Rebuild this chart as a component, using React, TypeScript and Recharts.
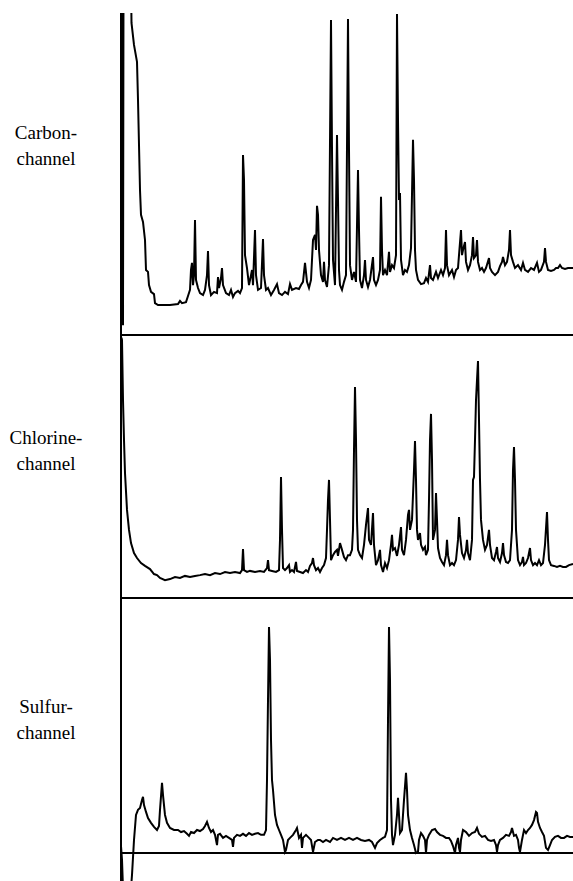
import { LineChart, Line, XAxis, YAxis, ReferenceLine } from "recharts";

// retention time (min) vs detector response (% of full scale)
const carbonTrace: [number, number][] = [
  [0, 0], [0.05, 110], [0.15, 110], [0.2, 3], [0.25, 110], [1.0, 110], [1.05, 96.9], [1.3, 90.1], [1.6, 84.8], [1.7, 73.0], [1.9, 45.0],
  [2.0, 37.3], [2.2, 35.1], [2.4, 29.5], [2.5, 20.2], [2.7, 19.6], [2.8, 15.5], [3.0, 13.4], [3.3, 12.7],
  [3.4, 9.9], [3.7, 9.3], [4.9, 9.3], [5.7, 9.6], [5.9, 10.6], [6.1, 9.9], [6.5, 10.2], [6.7, 12.1],
  [6.9, 14.0], [7.0, 20.2], [7.1, 22.4], [7.2, 15.5], [7.3, 18.6], [7.4, 35.7], [7.5, 17.1], [7.7, 14.6],
  [7.9, 13.0], [8.2, 12.4], [8.4, 14.0], [8.6, 18.6], [8.7, 26.1], [8.8, 15.5], [9.0, 12.4], [9.3, 13.4],
  [9.6, 13.0], [9.7, 18.0], [9.8, 14.6], [10.0, 17.7], [10.1, 20.8], [10.2, 15.5], [10.5, 13.0], [10.8, 12.4],
  [11.0, 14.0], [11.2, 11.8], [11.4, 13.0], [11.7, 13.7], [11.9, 13.0], [12.1, 14.6], [12.2, 55.9], [12.3, 48.1],
  [12.4, 24.8], [12.6, 20.8], [12.8, 15.5], [13.0, 18.6], [13.1, 20.2], [13.2, 15.5], [13.4, 32.6], [13.5, 18.6],
  [13.7, 14.0], [14.0, 14.6], [14.2, 29.8], [14.3, 18.6], [14.5, 14.0], [14.7, 14.6], [15.0, 12.4], [15.3, 14.0],
  [15.6, 15.8], [15.8, 13.0], [16.1, 12.4], [16.4, 13.4], [16.7, 12.7], [16.9, 15.8], [17.1, 14.0], [17.5, 14.6],
  [17.8, 14.3], [18.0, 15.5], [18.2, 16.5], [18.4, 22.4], [18.6, 16.5], [18.8, 14.6], [19.0, 17.1], [19.2, 29.5],
  [19.4, 31.1], [19.5, 26.4], [19.6, 40.1], [19.7, 37.3], [19.8, 26.4], [20.0, 18.6], [20.2, 16.5], [20.3, 22.7],
  [20.4, 17.1], [20.6, 14.9], [20.8, 21.7], [21.0, 97.8], [21.1, 57.5], [21.2, 23.3], [21.4, 15.5], [21.6, 62.1],
  [21.7, 41.9], [21.8, 20.2], [21.9, 15.5], [22.1, 14.0], [22.3, 16.5], [22.5, 18.6], [22.7, 98.1], [22.8, 57.5],
  [22.9, 21.7], [23.1, 17.1], [23.3, 19.6], [23.5, 16.5], [23.7, 51.2], [23.8, 32.6], [23.9, 17.1], [24.1, 14.6],
  [24.3, 18.6], [24.4, 23.3], [24.5, 17.1], [24.7, 14.9], [24.9, 17.1], [25.2, 24.2], [25.3, 17.1], [25.5, 15.5],
  [25.7, 17.1], [25.9, 20.2], [26.0, 42.9], [26.1, 26.4], [26.2, 18.6], [26.4, 20.2], [26.6, 18.6], [26.8, 25.8],
  [26.9, 19.6], [27.1, 21.7], [27.3, 20.8], [27.5, 24.8], [27.6, 99.7], [27.7, 66.8], [27.8, 41.9], [27.9, 44.1],
  [28.0, 23.3], [28.2, 18.6], [28.4, 20.2], [28.6, 19.6], [28.8, 21.7], [29.0, 27.0], [29.2, 60.6], [29.3, 48.1],
  [29.4, 26.4], [29.5, 20.2], [29.7, 17.1], [30.0, 15.8], [30.3, 16.1], [30.5, 17.7], [30.7, 16.5], [30.9, 21.7],
  [31.0, 17.7], [31.2, 17.1], [31.5, 19.6], [31.7, 17.7], [32.0, 20.2], [32.2, 18.6], [32.4, 20.8], [32.5, 32.6],
  [32.6, 21.7], [32.8, 18.6], [33.1, 20.2], [33.3, 18.0], [33.5, 20.2], [33.7, 20.8], [33.8, 24.8], [34.0, 32.6],
  [34.1, 24.8], [34.2, 26.4], [34.4, 28.9], [34.5, 22.7], [34.7, 20.2], [34.9, 21.7], [35.1, 24.8], [35.2, 30.4],
  [35.3, 23.9], [35.5, 24.8], [35.6, 29.5], [35.7, 22.7], [35.9, 20.2], [36.1, 20.8], [36.3, 19.6], [36.5, 20.8],
  [36.8, 23.9], [36.9, 20.8], [37.1, 19.6], [37.4, 18.6], [37.7, 19.6], [37.9, 21.4], [38.1, 22.7], [38.2, 24.2],
  [38.4, 21.7], [38.6, 22.7], [38.8, 26.4], [38.9, 32.6], [39.0, 24.8], [39.2, 22.7], [39.4, 20.8], [39.7, 21.7],
  [40.0, 20.2], [40.2, 22.4], [40.4, 20.2], [40.7, 19.6], [41.0, 20.8], [41.3, 20.2], [41.6, 22.4], [41.8, 19.6],
  [42.0, 20.2], [42.3, 22.7], [42.4, 27.0], [42.5, 22.7], [42.7, 20.2], [43.0, 19.9], [43.3, 20.2], [43.5, 20.8],
  [43.7, 20.8], [43.9, 21.7], [44.1, 20.8], [44.4, 20.5], [44.7, 20.8], [45.2, 20.8],
];

const chlorineTrace: [number, number][] = [
  [0.05, 99], [0.1, 98.1], [0.2, 75.3], [0.3, 60.1], [0.4, 47.5], [0.6, 33.5], [0.8, 25.9], [1.0, 20.9],
  [1.3, 17.1], [1.6, 15.2], [2.0, 13.3], [2.4, 12.2], [2.9, 11.0], [3.3, 9.1], [3.6, 8.7], [3.9, 7.6],
  [4.4, 6.8], [4.9, 7.2], [5.4, 8.0], [5.9, 7.6], [6.4, 8.4], [6.9, 8.0], [7.4, 8.4], [7.9, 8.7],
  [8.4, 9.1], [8.9, 8.7], [9.4, 9.5], [9.9, 9.1], [10.4, 9.9], [10.9, 9.5], [11.4, 9.9], [11.9, 9.5],
  [12.1, 10.6], [12.2, 18.6], [12.3, 10.6], [12.6, 9.9], [12.9, 10.3], [13.4, 9.9], [13.9, 10.3], [14.3, 9.9],
  [14.6, 11.4], [14.7, 14.4], [14.8, 10.6], [15.1, 10.3], [15.5, 9.9], [15.8, 10.6], [15.9, 22.1], [16.0, 46.0],
  [16.1, 25.9], [16.2, 11.4], [16.4, 10.6], [16.6, 11.4], [16.8, 12.5], [16.9, 9.9], [17.1, 10.6], [17.3, 9.9],
  [17.5, 13.7], [17.6, 10.3], [17.9, 9.9], [18.2, 9.5], [18.5, 10.6], [18.7, 9.9], [18.9, 12.2], [19.1, 13.3],
  [19.2, 15.2], [19.3, 12.5], [19.5, 10.6], [19.7, 11.4], [19.9, 9.9], [20.1, 11.4], [20.3, 12.5], [20.5, 15.2],
  [20.6, 25.9], [20.7, 37.3], [20.8, 44.9], [20.9, 29.7], [21.0, 14.4], [21.2, 16.3], [21.4, 17.5], [21.6, 18.3],
  [21.7, 16.0], [21.9, 20.9], [22.1, 18.3], [22.3, 15.6], [22.5, 14.4], [22.7, 16.3], [22.9, 16.3], [23.1, 18.3],
  [23.2, 25.9], [23.3, 56.3], [23.4, 80.2], [23.5, 60.1], [23.6, 29.7], [23.7, 18.3], [23.9, 16.3], [24.1, 15.2],
  [24.3, 20.2], [24.5, 27.8], [24.7, 34.2], [24.8, 22.1], [25.0, 20.2], [25.2, 32.3], [25.3, 20.2], [25.5, 12.5],
  [25.7, 14.4], [25.9, 18.3], [26.0, 12.5], [26.2, 9.9], [26.4, 13.3], [26.6, 11.4], [26.8, 14.4], [27.0, 20.2],
  [27.1, 24.0], [27.2, 18.3], [27.4, 19.0], [27.6, 16.0], [27.8, 20.2], [28.0, 27.0], [28.1, 18.3], [28.3, 16.3],
  [28.5, 22.1], [28.7, 31.6], [28.8, 33.5], [28.9, 25.9], [29.1, 29.7], [29.3, 48.7], [29.4, 59.7], [29.5, 44.9],
  [29.6, 25.9], [29.7, 22.1], [29.9, 24.7], [30.0, 20.2], [30.2, 18.3], [30.4, 19.4], [30.5, 16.3], [30.7, 18.3],
  [30.8, 37.3], [30.9, 60.1], [31.0, 70.0], [31.1, 52.5], [31.2, 22.1], [31.4, 25.9], [31.5, 39.9], [31.6, 29.7],
  [31.7, 19.0], [31.9, 15.2], [32.1, 13.7], [32.3, 12.5], [32.5, 16.3], [32.6, 22.1], [32.7, 16.3], [32.9, 12.5],
  [33.1, 13.3], [33.3, 12.5], [33.5, 14.4], [33.7, 22.1], [33.8, 30.8], [33.9, 24.0], [34.1, 17.1], [34.3, 15.2],
  [34.5, 18.3], [34.6, 22.1], [34.7, 17.1], [34.9, 14.4], [35.1, 22.1], [35.2, 44.9], [35.3, 46.0], [35.4, 60.1],
  [35.5, 75.3], [35.6, 82.9], [35.7, 90.1], [35.8, 67.7], [35.9, 44.9], [36.0, 29.7], [36.2, 22.1], [36.4, 18.3],
  [36.6, 20.2], [36.8, 25.9], [36.9, 20.2], [37.1, 15.2], [37.3, 14.4], [37.5, 17.5], [37.6, 19.4], [37.7, 15.2],
  [37.9, 13.7], [38.1, 17.1], [38.2, 20.9], [38.3, 16.3], [38.5, 13.7], [38.7, 13.3], [38.9, 14.4], [39.1, 25.9],
  [39.2, 48.7], [39.3, 57.4], [39.4, 44.9], [39.5, 25.9], [39.7, 14.4], [39.9, 12.5], [40.1, 13.7], [40.2, 15.6],
  [40.3, 12.5], [40.5, 13.3], [40.7, 15.2], [40.9, 19.0], [41.0, 14.4], [41.2, 12.5], [41.4, 13.3], [41.6, 12.5],
  [41.8, 14.4], [42.0, 12.5], [42.2, 13.3], [42.4, 20.2], [42.6, 32.7], [42.7, 22.1], [42.8, 14.4], [43.0, 12.5],
  [43.3, 12.2], [43.6, 11.8], [43.9, 12.2], [44.2, 11.8], [44.5, 11.8], [44.8, 12.5], [45.2, 12.9],
];

const sulfurTrace: [number, number][] = [
  [0, 2.7], [0.1, -2.7], [0.2, -14], [1.0, -14], [1.1, -8.6], [1.3, 5.1], [1.5, 14.9], [1.7, 16.9],
  [1.9, 17.6], [2.1, 20.8], [2.2, 22.0], [2.3, 18.8], [2.5, 16.1], [2.7, 13.7], [3.0, 11.8], [3.3, 10.2],
  [3.6, 9.0], [3.8, 10.6], [3.9, 16.9], [4.1, 27.5], [4.2, 22.7], [4.4, 14.9], [4.6, 11.8], [4.9, 9.8],
  [5.3, 9.0], [5.7, 9.0], [6.0, 8.2], [6.3, 8.6], [6.6, 7.5], [6.8, 6.7], [7.0, 8.2], [7.3, 7.8],
  [7.6, 9.0], [7.9, 8.6], [8.2, 9.4], [8.4, 10.6], [8.6, 12.2], [8.8, 9.8], [9.0, 8.2], [9.2, 9.0],
  [9.4, 7.1], [9.6, 3.1], [9.7, 7.1], [9.9, 7.5], [10.2, 5.9], [10.5, 6.7], [10.8, 5.9], [11.1, 5.1],
  [11.2, 2.4], [11.3, 5.9], [11.6, 7.1], [11.9, 6.7], [12.2, 7.5], [12.5, 6.7], [12.8, 7.8], [13.1, 7.1],
  [13.4, 7.5], [13.7, 7.8], [14.0, 7.1], [14.3, 7.1], [14.5, 9.0], [14.6, 28.6], [14.7, 60.0], [14.8, 88.6],
  [14.9, 75.7], [15.0, 44.3], [15.1, 28.6], [15.2, 24.7], [15.4, 14.9], [15.6, 11.0], [15.8, 9.0], [16.0, 7.1],
  [16.2, 5.1], [16.4, 0.4], [16.5, 1.2], [16.7, 5.1], [16.9, 5.9], [17.2, 7.1], [17.5, 9.0], [17.6, 9.8],
  [17.8, 5.9], [18.0, 7.1], [18.1, 2.0], [18.2, 5.9], [18.5, 7.1], [18.8, 5.9], [19.0, 5.1], [19.2, 0.4],
  [19.4, 4.3], [19.7, 5.1], [19.9, 5.1], [20.2, 4.3], [20.5, 5.1], [20.9, 4.3], [21.2, 5.9], [21.6, 5.1],
  [22.0, 5.9], [22.4, 5.1], [22.8, 5.9], [23.2, 5.1], [23.6, 5.9], [24.0, 5.1], [24.4, 4.7], [24.8, 5.1],
  [25.1, 4.3], [25.4, 2.0], [25.6, 3.9], [25.9, 5.1], [26.2, 5.9], [26.4, 6.3], [26.6, 9.0], [26.7, 52.2],
  [26.8, 88.6], [26.9, 67.8], [27.0, 20.8], [27.1, 7.1], [27.2, 3.1], [27.4, 7.1], [27.6, 14.9], [27.7, 21.6],
  [27.8, 14.9], [27.9, 7.8], [28.1, 9.0], [28.3, 20.8], [28.5, 31.4], [28.6, 24.7], [28.7, 14.9], [28.9, 9.0],
  [29.1, 5.9], [29.3, 3.1], [29.5, 0.0], [29.7, 0.4], [29.8, 5.1], [30.0, 7.8], [30.2, 6.7], [30.4, 5.1],
  [30.5, 0.0], [30.6, 5.1], [30.8, 7.1], [31.1, 9.0], [31.4, 9.4], [31.6, 8.2], [31.9, 7.1], [32.2, 6.7],
  [32.5, 5.9], [32.8, 5.9], [33.0, 4.7], [33.2, 2.7], [33.4, 0.0], [33.5, 3.1], [33.7, 5.9], [33.8, 2.0],
  [33.9, 0.4], [34.0, 5.1], [34.2, 9.0], [34.5, 8.2], [34.8, 6.7], [35.1, 7.8], [35.4, 8.2], [35.6, 9.8],
  [35.8, 7.5], [36.1, 6.3], [36.4, 6.7], [36.7, 5.1], [37.0, 4.7], [37.3, 5.1], [37.5, 3.1], [37.6, 0.4],
  [37.7, 3.1], [37.9, 5.1], [38.2, 5.9], [38.5, 7.1], [38.8, 6.7], [39.0, 8.2], [39.1, 9.8], [39.3, 6.7],
  [39.5, 7.1], [39.7, 5.1], [39.8, 2.0], [39.9, 0.4], [40.1, 5.1], [40.3, 9.0], [40.5, 7.8], [40.7, 9.0],
  [40.9, 9.8], [41.1, 11.0], [41.3, 12.9], [41.5, 16.1], [41.6, 15.7], [41.7, 12.2], [41.9, 9.8], [42.1, 8.2],
  [42.3, 6.7], [42.5, 2.0], [42.7, 1.2], [42.9, 3.1], [43.1, 5.1], [43.4, 6.3], [43.7, 6.7], [44.0, 5.9],
  [44.3, 5.9], [44.6, 6.7], [44.9, 6.3], [45.2, 6.3],
];

const channelLabels = ["Carbon-", "Chlorine-", "Sulfur-"];
const timeRange: [number, number] = [0, 45.2];

const toRows = (trace: [number, number][]) => trace.map(([t, v]) => ({ t, v }));

interface PanelProps {
  trace: [number, number][];
  top: number;
  height: number;
  margin: { top: number; right: number; bottom: number; left: number };
  yDomain: [number, number];
}

function Panel({ trace, top, height, margin, yDomain }: PanelProps) {
  return (
    <div style={{ position: "absolute", left: 0, top }}>
      <LineChart width={573} height={height} data={toRows(trace)} margin={margin}>
        <XAxis type="number" dataKey="t" domain={timeRange} allowDataOverflow hide />
        <YAxis type="number" domain={yDomain} allowDataOverflow hide />
        {/* frame: left edge and zero line of the panel */}
        <ReferenceLine x={0} stroke="#000" strokeWidth={2} />
        <ReferenceLine y={0} stroke="#000" strokeWidth={2} />
        <Line
          type="linear"
          dataKey="v"
          stroke="#000"
          strokeWidth={2}
          dot={false}
          isAnimationActive={false}
        />
      </LineChart>
    </div>
  );
}

const labelStyle = (top: number): React.CSSProperties => ({
  position: "absolute",
  left: 0,
  width: 92,
  top,
  textAlign: "center",
  fontFamily: '"Liberation Serif", serif',
  fontSize: 19,
  lineHeight: "26px",
  color: "#000",
});

export default function App() {
  return (
    <div style={{ position: "absolute", left: 0, top: 0, width: 573, height: 881, background: "#fff", overflow: "hidden" }}>
      <Panel trace={carbonTrace} top={0} height={340} margin={{ top: 13, right: 0, bottom: 5, left: 121 }} yDomain={[0, 100]} />
      <Panel trace={chlorineTrace} top={330} height={275} margin={{ top: 5, right: 0, bottom: 7, left: 121 }} yDomain={[0, 100]} />
      {/* sulfur trace dips below its zero line, so the plot runs on to the page bottom */}
      <Panel trace={sulfurTrace} top={593} height={288} margin={{ top: 5, right: 0, bottom: 0, left: 121 }} yDomain={[-11, 100]} />
      <div style={labelStyle(120)}>{channelLabels[0]}<br />channel</div>
      <div style={labelStyle(425)}>{channelLabels[1]}<br />channel</div>
      <div style={labelStyle(694)}>{channelLabels[2]}<br />channel</div>
    </div>
  );
}
